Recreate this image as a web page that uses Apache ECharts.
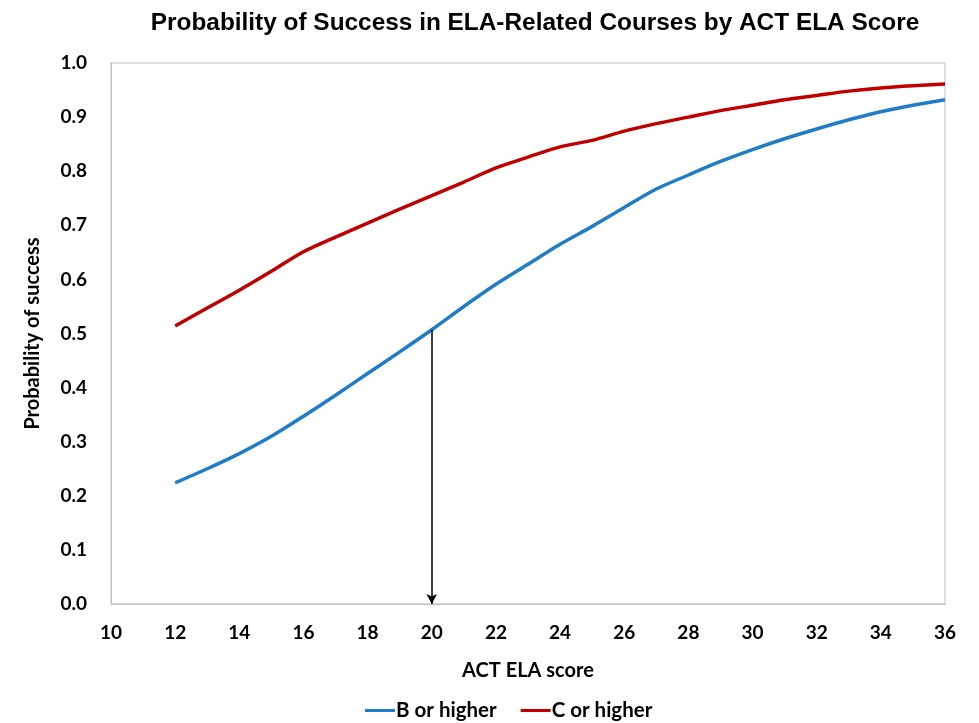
<!DOCTYPE html>
<html>
<head>
<meta charset="utf-8">
<script src="https://cdn.jsdelivr.net/npm/echarts@6/dist/echarts.min.js"></script>
<style>
  html, body { margin: 0; padding: 0; background: #fff; }
  #chart { width: 979px; height: 723px; }
</style>
</head>
<body>
<div id="chart"></div>
<script>
// ACT ELA scores 12..36
var scores = [12, 13, 14, 15, 16, 17, 18, 19, 20, 21, 22, 23, 24,
  25, 26, 27, 28, 29, 30, 31, 32, 33, 34, 35, 36];

// probability of a B or higher
var bOrHigher = [0.224, 0.250, 0.278, 0.310, 0.347, 0.386, 0.426, 0.466, 0.507,
  0.550, 0.591, 0.628, 0.665, 0.698, 0.733, 0.767, 0.793, 0.818, 0.840,
  0.860, 0.878, 0.895, 0.910, 0.922, 0.932];

// probability of a C or higher
var cOrHigher = [0.514, 0.547, 0.580, 0.615, 0.651, 0.678, 0.704, 0.730, 0.755,
  0.780, 0.806, 0.826, 0.845, 0.857, 0.874, 0.888, 0.900, 0.912, 0.922,
  0.932, 0.940, 0.948, 0.954, 0.958, 0.961];

// arrow from the B curve at score 20 down to the axis
var arrowScore = 20;
var arrowTop = 0.507;

function pairs(ys) {
  return scores.map(function (x, i) { return [x, ys[i]]; });
}

var labelFont = 'Lato, "Open Sans", sans-serif';

var chart = echarts.init(document.getElementById('chart'));
var option = {
  animation: false,
  backgroundColor: '#fff',
  title: {
    text: 'Probability of Success in ELA-Related Courses by ACT ELA Score',
    left: 530,
    textAlign: 'center',
    top: 6,
    textStyle: {
      fontFamily: '"Liberation Sans", Arial, sans-serif',
      fontWeight: 'bold',
      fontSize: 24.4,
      color: '#000'
    }
  },
  legend: {
    top: 700,
    left: 365,
    itemWidth: 30,
    itemHeight: 3,
    itemGap: 24,
    icon: 'rect',
    padding: 0,
    textStyle: { fontFamily: labelFont, fontWeight: 'bold', fontSize: 20.5, color: '#000', padding: [0, 0, 0, -4] },
    data: ['B or higher', 'C or higher']
  },
  grid: {
    left: 111,
    right: 34,
    top: 63,
    bottom: 119,
    show: true,
    borderColor: '#bfbfbf',
    borderWidth: 1
  },
  xAxis: {
    type: 'value',
    min: 10,
    max: 36,
    interval: 2,
    name: 'ACT ELA score',
    nameLocation: 'middle',
    nameGap: 57,
    nameTextStyle: { fontFamily: labelFont, fontWeight: 'bold', fontSize: 20, color: '#000' },
    axisLine: { lineStyle: { color: '#bfbfbf' } },
    axisTick: { show: false },
    splitLine: { show: false },
    axisLabel: { margin: 19, fontFamily: labelFont, fontWeight: 'bold', fontSize: 19, color: '#000' }
  },
  yAxis: {
    type: 'value',
    min: 0,
    max: 1,
    interval: 0.1,
    name: 'Probability of success',
    nameLocation: 'middle',
    nameGap: 68,
    nameTextStyle: { fontFamily: labelFont, fontWeight: 'bold', fontSize: 20, color: '#000' },
    axisLine: { show: true, lineStyle: { color: '#bfbfbf' } },
    axisTick: { show: false },
    splitLine: { show: false },
    axisLabel: {
      margin: 24,
      fontFamily: labelFont,
      fontWeight: 'bold',
      fontSize: 19,
      color: '#000',
      formatter: function (v) { return v.toFixed(1); }
    }
  },
  series: [
    {
      name: 'B or higher',
      type: 'line',
      data: pairs(bOrHigher),
      showSymbol: false,
      smooth: 0.3,
      color: '#1f7cc7',
      lineStyle: { width: 3.5, color: '#1f7cc7' },
      markLine: {
        silent: true,
        symbol: ['none', 'arrow'],
        symbolSize: [8, 10],
        label: { show: false },
        lineStyle: { color: '#000', width: 1.5, type: 'solid' },
        data: [[{ coord: [arrowScore, arrowTop] }, { coord: [arrowScore, 0] }]]
      }
    },
    {
      name: 'C or higher',
      type: 'line',
      data: pairs(cOrHigher),
      showSymbol: false,
      smooth: 0.3,
      color: '#c00000',
      lineStyle: { width: 3.5, color: '#c00000' }
    }
  ]
};
chart.setOption(option);
</script>
</body>
</html>
